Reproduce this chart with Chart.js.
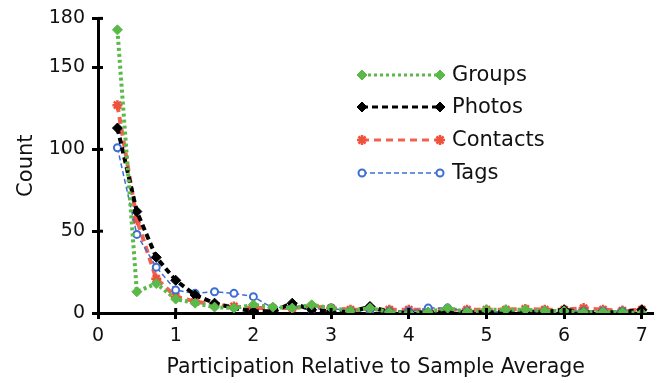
<!DOCTYPE html>
<html>
<head>
<meta charset="utf-8">
<script src="https://cdn.jsdelivr.net/npm/chart.js@4/dist/chart.umd.min.js"></script>
<style>
html,body{margin:0;padding:0;background:#fff;}
canvas{display:block;}
</style>
</head>
<body>
<canvas id="c" width="661" height="383"></canvas>
<script>
const xValues = [0.25,0.5,0.75,1,1.25,1.5,1.75,2,2.25,2.5,2.75,3,3.25,3.5,3.75,4,4.25,4.5,4.75,5,5.25,5.5,5.75,6,6.25,6.5,6.75,7];
const groups   = [173,13,18,8.5,6,3.6,3,5,3.6,3,5,3,1.2,3,0.6,0,0.6,3,0.6,2,2,2,1.2,1.2,0.6,0.6,0.6,0];
const photos   = [113,62,34,20,11,6,3,1,1,6,2,1,0.5,4,0.5,0,0.5,0,0.5,0.5,0.5,1,0.5,2,0.5,0.5,0.5,2];
const contacts = [127,57,21,10,7,5,4,3,3,3,4,3,2,2,2,2,2,2,2,2,2,2.5,2,2,3,2,1.5,2];
const tags     = [101,48,28,14,12,13,12,10,3,4,2,3,1,2,1,1,3,3,1,0.5,1,1,1,1,1,1,1,1];
const seriesNames = ['Groups','Photos','Contacts','Tags'];
const xTickValues = [0,1,2,3,4,5,6,7];
const yTickValues = [0,50,100,150,180];

const FONT = 'DejaVu Sans';
const toPts = arr => arr.map((v,i)=>({x:xValues[i], y:v}));

const innerTicks = {
  id:'innerTicks',
  afterDraw(chart){
    const ctx = chart.ctx, xs = chart.scales.x, ys = chart.scales.y, a = chart.chartArea;
    ctx.save();
    ctx.strokeStyle = '#000'; ctx.lineWidth = 3;
    xTickValues.forEach(v=>{ if(v===0) return; const p = xs.getPixelForValue(v); ctx.beginPath(); ctx.moveTo(p,a.bottom); ctx.lineTo(p,a.bottom-5); ctx.stroke(); });
    yTickValues.forEach(v=>{ if(v===0) return; const p = ys.getPixelForValue(v); ctx.beginPath(); ctx.moveTo(a.left,p); ctx.lineTo(a.left+5,p); ctx.stroke(); });
    ctx.restore();
  }
};

const legendPlugin = {
  id:'customLegend',
  afterDraw(chart){
    const ctx = chart.ctx;
    const rows = [75,107,140,173];
    const x0 = 362, x1 = 440, tx = 452;
    chart.data.datasets.forEach((ds,i)=>{
      const y = rows[i];
      ctx.save();
      ctx.strokeStyle = ds.borderColor;
      ctx.lineWidth = Math.min(ds.borderWidth, 3);
      ctx.setLineDash(ds.borderDash || []);
      ctx.beginPath(); ctx.moveTo(x0,y); ctx.lineTo(x1,y); ctx.stroke();
      ctx.setLineDash([]);
      ctx.fillStyle = ds.pointBackgroundColor;
      ctx.strokeStyle = ds.pointBorderColor;
      ctx.lineWidth = ds.pointBorderWidth;
      const opts = {pointStyle: ds.pointStyle, radius: ds.pointRadius, rotation: 0, borderWidth: ds.pointBorderWidth};
      Chart.helpers.drawPoint(ctx, opts, x0, y);
      Chart.helpers.drawPoint(ctx, opts, x1, y);
      ctx.fillStyle = '#111';
      ctx.font = '21px "' + FONT + '"';
      ctx.textBaseline = 'middle';
      ctx.textAlign = 'left';
      ctx.fillText(ds.label, tx, y+1);
      ctx.restore();
    });
  }
};

new Chart(document.getElementById('c'), {
  type:'line',
  data:{
    datasets:[
      {label:seriesNames[0], data:toPts(groups), borderColor:'#5ab948', borderWidth:4, borderDash:[3,3],
       pointStyle:'rectRot', pointRadius:5, pointBackgroundColor:'#5ab948', pointBorderColor:'#5ab948', pointBorderWidth:1, order:0},
      {label:seriesNames[1], data:toPts(photos), borderColor:'#000', borderWidth:4, borderDash:[6,4],
       pointStyle:'rectRot', pointRadius:5, pointBackgroundColor:'#000', pointBorderColor:'#000', pointBorderWidth:1, order:1},
      {label:seriesNames[2], data:toPts(contacts), borderColor:'rgba(240,80,60,0.9)', borderWidth:4, borderDash:[7,5],
       pointStyle:'star', pointRadius:5, pointBackgroundColor:'#f0503c', pointBorderColor:'#f0503c', pointBorderWidth:2.5, order:3},
      {label:seriesNames[3], data:toPts(tags), borderColor:'#3d6fd1', borderWidth:1.5, borderDash:[5,3],
       pointStyle:'circle', pointRadius:3.5, pointBackgroundColor:'#fff', pointBorderColor:'#3d6fd1', pointBorderWidth:2, order:2}
    ]
  },
  options:{
    responsive:false,
    animation:false,
    layout:{padding:{top:15,right:5,left:0,bottom:0}},
    plugins:{legend:{display:false}, tooltip:{enabled:false}},
    elements:{line:{tension:0}},
    scales:{
      x:{type:'linear', min:0, max:7.15,
         afterBuildTicks:s=>{s.ticks = xTickValues.map(v=>({value:v}));},
         afterFit:s=>{s.height = 70;},
         border:{display:true,width:3,color:'#000'},
         grid:{drawOnChartArea:false,drawTicks:true,tickLength:6,tickWidth:3,tickColor:'#000'},
         ticks:{color:'#111',font:{family:FONT,size:19},padding:6,maxRotation:0},
         title:{display:true,text:'Participation Relative to Sample Average',color:'#111',font:{family:FONT,size:20.5},padding:{top:4,bottom:3}}
      },
      y:{type:'linear', min:0, max:180,
         afterBuildTicks:s=>{s.ticks = yTickValues.map(v=>({value:v}));},
         afterFit:s=>{s.width = 98;},
         border:{display:true,width:3,color:'#000'},
         grid:{drawOnChartArea:false,drawTicks:true,tickLength:6,tickWidth:3,tickColor:'#000'},
         ticks:{color:'#111',font:{family:FONT,size:19},padding:7},
         title:{display:true,text:'Count',color:'#111',font:{family:FONT,size:21},padding:{top:14,bottom:4}}
      }
    }
  },
  plugins:[innerTicks, legendPlugin]
});
</script>
</body>
</html>
